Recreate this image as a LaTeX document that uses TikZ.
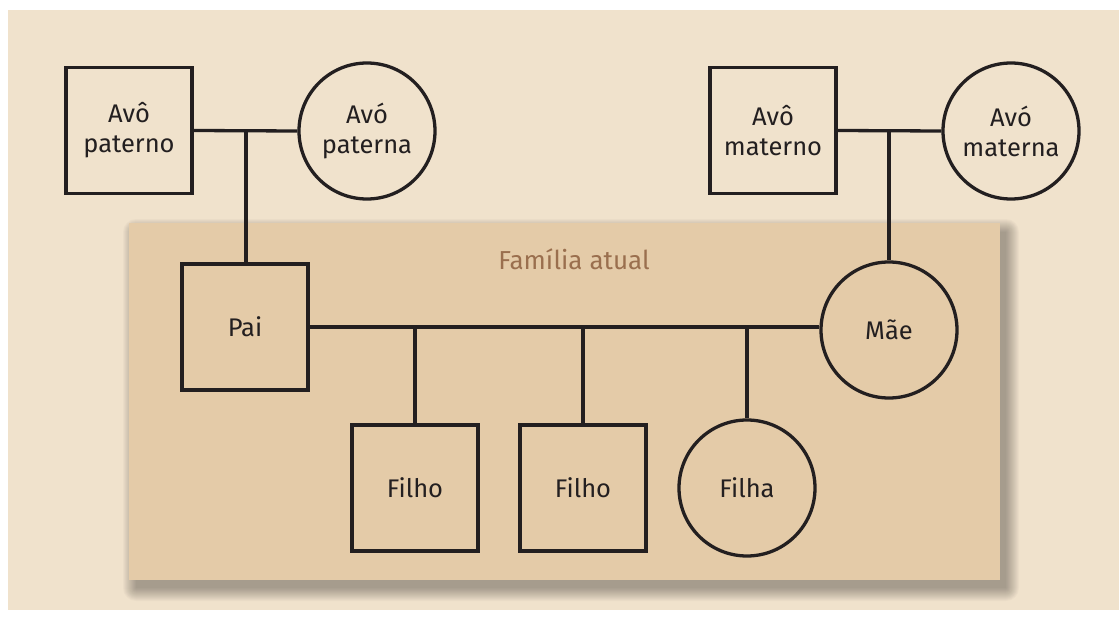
\documentclass[tikz,border=0pt]{standalone}
\usepackage{fontspec}
\setmainfont{Fira Sans}
\definecolor{outerbg}{HTML}{F0E2CC}
\definecolor{innerbg}{HTML}{E4CBA8}
\definecolor{labelbrown}{HTML}{9A6F4E}
\definecolor{inkline}{HTML}{231F20}
\tikzset{
  x=1pt,y=-1pt,
  person/.style={draw=inkline,line width=3.3pt,minimum size=126pt,inner sep=0pt,align=center,
    font=\fontsize{25.5}{30}\selectfont,text=inkline},
  male/.style={person,rectangle},
  female/.style={person,circle,minimum size=136pt},
  link/.style={draw=inkline,line width=3.3pt},
  shadowlayer/.style={fill=black,opacity=0.024},
}
\begin{document}
\begin{tikzpicture}
\useasboundingbox (0,0) rectangle (1119,618);
\fill[white] (0,0) rectangle (1119,618);
\fill[outerbg] (8,10) rectangle (1119,610);
\foreach \g in {0,1,...,13}{
  \fill[shadowlayer,rounded corners=\g pt] (136-\g,232-\g) rectangle (1006+\g,588+\g);
}
\fill[innerbg] (129,223) rectangle (1000,580);
\node[text=labelbrown,font=\fontsize{26}{30}\selectfont] (title) at (574,259) {Família atual};

\node[male] (avop) at (129,130.5) {Avô\\paterno};
\node[female] (avap) at (367,131) {Avó\\paterna};
\node[male] (avom) at (773,130.5) {Avô\\materno};
\node[female] (avam) at (1011,131) {Avó\\materna};
\node[male] (pai) at (245,327) {Pai};
\node[female] (mae) at (889,330) {Mãe};
\node[male] (f1) at (415,488) {Filho};
\node[male] (f2) at (583,488) {Filho};
\node[female] (f3) at (747,488) {Filha};

\coordinate (cp) at (246,130.5);
\coordinate (cm) at (889,130.5);
\draw[link] (avop.east) -- (avap.west);
\draw[link] (avom.east) -- (avam.west);
\draw[link] (cp) -- (cp |- pai.north);
\draw[link] (cm) -- (mae.north);
\draw[link] (pai.east) -- (pai.east -| mae.west);
\coordinate (k1) at (415,327);
\coordinate (k2) at (583,327);
\coordinate (k3) at (747,327);
\draw[link] (k1) -- (f1.north);
\draw[link] (k2) -- (f2.north);
\draw[link] (k3) -- (f3.north);
\end{tikzpicture}
\end{document}
